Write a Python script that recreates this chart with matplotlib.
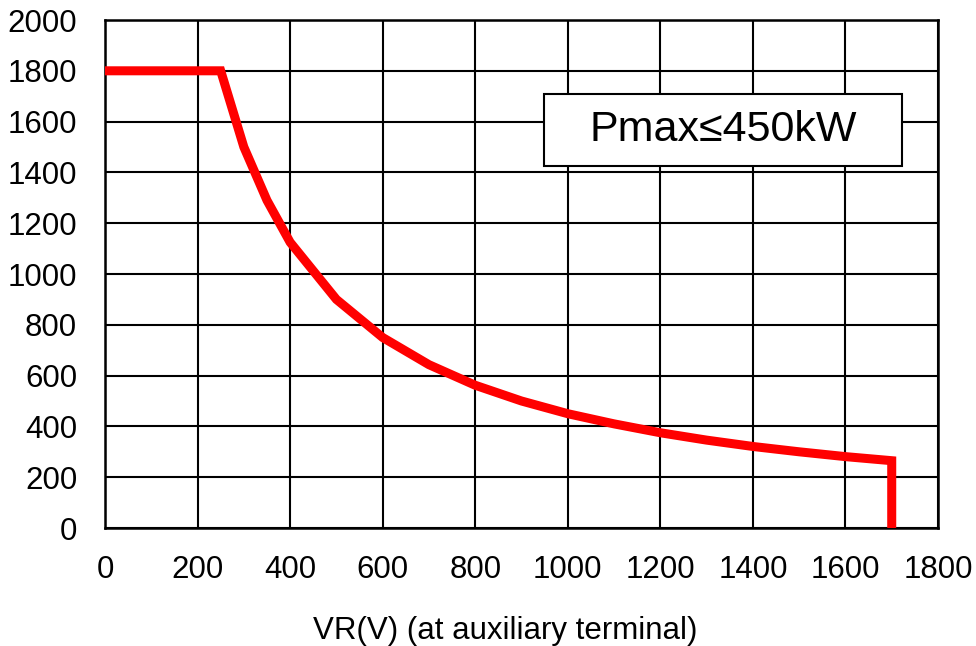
import matplotlib
matplotlib.use("Agg")
import matplotlib.pyplot as plt
from matplotlib.patches import Rectangle

plt.rcParams['font.family'] = ['Liberation Sans', 'DejaVu Sans']

voltage = [0, 250, 300, 350, 400, 500, 600, 700, 800, 900, 1000, 1100, 1200, 1300, 1400, 1500, 1600, 1700, 1700]
current = [1800, 1800, 1500, 1290, 1125, 900, 750, 643, 562, 500, 450, 410, 375, 346, 321, 300, 281, 265, 0]
x_ticks = [0, 200, 400, 600, 800, 1000, 1200, 1400, 1600, 1800]
y_ticks = [0, 200, 400, 600, 800, 1000, 1200, 1400, 1600, 1800, 2000]
x_label = "VR(V) (at auxiliary terminal)"
note = "Pmax\u2264450kW"

fig = plt.figure(figsize=(9.76, 6.46), dpi=100)
ax = fig.add_axes([105/976, 1-528/646, (938-105)/976, (528-20)/646])
ax.plot(voltage, current, color='#ff0000', lw=6.5, solid_joinstyle='miter', solid_capstyle='butt', zorder=3)
ax.set_xlim(0, 1800)
ax.set_ylim(0, 2000)
ax.set_xticks(x_ticks)
ax.set_yticks(y_ticks)
ax.grid(True, color='black', lw=1.5)
for s in ax.spines.values():
    s.set_linewidth(1.8)
ax.tick_params(axis='both', length=0, labelsize=22.5)
ax.tick_params(axis='y', pad=20)
ax.tick_params(axis='x', pad=19.5)
ax.set_xlabel(x_label, fontsize=22.5, labelpad=22, x=0.48)
ax.add_patch(Rectangle((0.527, 0.7126), 0.43, 0.1414, transform=ax.transAxes,
                       fc='white', ec='black', lw=1.5, zorder=5))
ax.text(0.742, 0.783, note, transform=ax.transAxes, ha='center', va='center', fontsize=31, zorder=6)
fig.savefig("out.png", dpi=100)
